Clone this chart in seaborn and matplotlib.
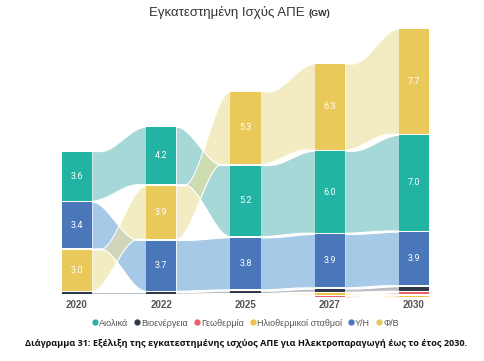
import numpy as np
import matplotlib.pyplot as plt
import seaborn as sns

# --- data ---
years = ['2020', '2022', '2025', '2027', '2030']
names = ['Αιολικά', 'Βιοενέργεια', 'Γεωθερμία', 'Ηλιοθερμικοί σταθμοί', 'Υ/Η', 'Φ/Β']
wind = [3.6, 4.2, 5.2, 6.0, 7.0]
bio = [0.1, 0.1, 0.15, 0.2, 0.3]
geo = [0.0, 0.0, 0.0, 0.05, 0.12]
solar_thermal = [0.0, 0.0, 0.05, 0.1, 0.1]
hydro = [3.4, 3.7, 3.8, 3.9, 3.9]
pv = [3.0, 3.9, 5.3, 6.3, 7.7]

values = dict(zip(names, [wind, bio, geo, solar_thermal, hydro, pv]))
colors = dict(zip(names, ['#22b3a3', '#2f3a48', '#e8616a', '#efc24a', '#4a77ba', '#e9c95a']))
ribbon_colors = dict(zip(names, ['#69bebb', '#898f99', '#f0a0a4', '#f2d98a', '#6ca5d9', '#ebe09a']))

sns.set_theme(style='white')
plt.rcParams['font.family'] = ['Liberation Sans', 'DejaVu Sans']

gap = 0.12
bar_w = 0.36
n_years = len(years)

# stack each year ascending by value (largest on top), like a ribbon chart
bottoms = {n: [0.0] * n_years for n in names}
for j in range(n_years):
    y0 = 0.0
    for n in sorted(names, key=lambda k: values[k][j]):
        bottoms[n][j] = y0
        y0 += values[n][j] + gap


def smooth(t, a, b):
    u = np.clip((t - a) / (b - a), 0, 1)
    return u * u * (3 - 2 * u)


fig = plt.figure(figsize=(4.85, 3.61), dpi=100)
ax = fig.add_axes([0.063, 0.177, 0.886, 0.753])

# ribbons between bars: trailing edge moves early, leading edge late
t = np.linspace(0, 1, 120)
early = smooth(t, 0.0, 0.85)
late = smooth(t, 0.15, 1.0)
for n in names:
    v = values[n]
    b = bottoms[n]
    for j in range(n_years - 1):
        if v[j] == 0 and v[j + 1] == 0:
            continue
        xs = np.linspace(j + bar_w / 2, j + 1 - bar_w / 2, len(t))
        lo0, lo1 = b[j], b[j + 1]
        hi0, hi1 = b[j] + v[j], b[j + 1] + v[j + 1]
        rising = (lo1 + hi1) > (lo0 + hi0)
        s_lo, s_hi = (early, late) if rising else (late, early)
        lo = lo0 + (lo1 - lo0) * s_lo
        hi = hi0 + (hi1 - hi0) * s_hi
        hi = np.maximum(hi, lo + 0.05)
        ax.fill_between(xs, lo, hi, color=ribbon_colors[n], alpha=0.6, lw=0, zorder=1)
        ax.plot(xs, lo - 0.03, color='white', lw=0.8, zorder=2)
        ax.plot(xs, hi + 0.03, color='white', lw=0.8, zorder=2)

# bars
for n in names:
    ax.bar(range(n_years), values[n], bottom=bottoms[n], width=bar_w,
           color=colors[n], lw=0, zorder=3)
    for j in range(n_years):
        if values[n][j] >= 1:
            ax.text(j, bottoms[n][j] + values[n][j] / 2, f'{values[n][j]:.1f}',
                    ha='center', va='center', color='white', fontsize=6.5,
                    family=['Roboto', 'DejaVu Sans'], zorder=4)

ax.set_xlim(-0.55, n_years - 1 + 0.55)
ax.set_ylim(0, 20)
ax.set_xticks(range(n_years), years)
ax.set_yticks([])
ax.tick_params(axis='x', length=0, pad=2, labelsize=7, labelcolor='#555555')
for lbl in ax.get_xticklabels():
    lbl.set_fontweight('bold')
sns.despine(ax=ax, left=True, bottom=True)

# title
fig.text(0.629, 0.965, 'Εγκατεστημένη Ισχύς ΑΠΕ', ha='right', va='center',
         fontsize=9.5, color='#333333')
fig.text(0.636, 0.963, '(GW)', ha='left', va='center', fontsize=6.5,
         fontweight='bold', color='#333333')

# legend
handles = [plt.Line2D([], [], marker='o', ls='', ms=3.5, color=colors[n]) for n in names]
fig.legend(handles, names, loc='center', bbox_to_anchor=(0.505, 0.105), ncol=6,
           frameon=False, fontsize=6.5, handletextpad=0.05, columnspacing=0.6,
           handlelength=0.8, labelcolor='#555555')

# caption
fig.text(0.508, 0.048,
         'Διάγραμμα 31: Εξέλιξη της εγκατεστημένης ισχύος ΑΠΕ για Ηλεκτροπαραγωγή έως το έτος 2030.',
         ha='center', va='center', fontsize=6.6, fontweight='bold',
         family=['Open Sans', 'DejaVu Sans'], color='#111111')

fig.savefig('out.png', dpi=100)
